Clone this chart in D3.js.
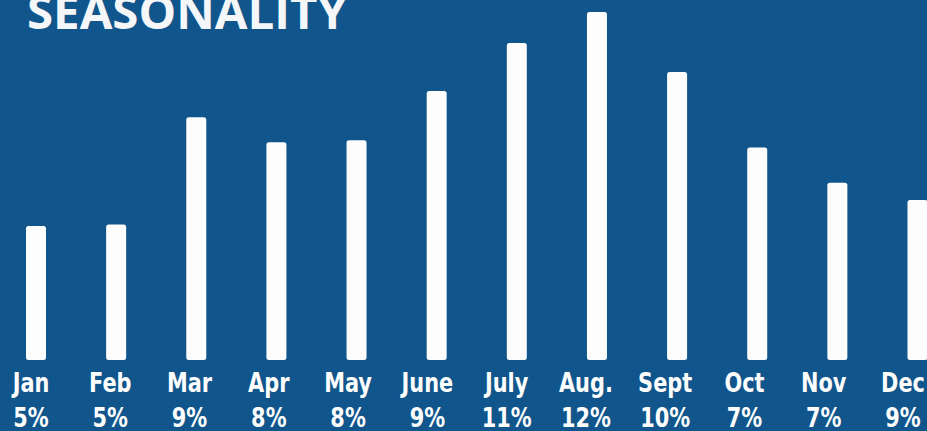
<!DOCTYPE html>
<html>
<head>
<meta charset="utf-8">
<script src="https://cdn.jsdelivr.net/npm/d3@7"></script>
<style>
  html, body { margin: 0; padding: 0; background: #10558b; overflow: hidden; }
  svg { display: block; }
</style>
</head>
<body>
<svg id="chart" width="927" height="431"></svg>
<script>
const title = "SEASONALITY";
const months = ["Jan", "Feb", "Mar", "Apr", "May", "June", "July", "Aug.", "Sept", "Oct", "Nov", "Dec"];
const shareLabels = ["5%", "5%", "9%", "8%", "8%", "9%", "11%", "12%", "10%", "7%", "7%", "9%"];
// bar heights as drawn (index on a 0–12 scale)
const barValues = [4.62, 4.67, 8.37, 7.51, 7.58, 9.28, 10.93, 12.0, 9.93, 7.33, 6.11, 5.52];

const W = 927, H = 431;
const svg = d3.select("#chart");
svg.append("rect").attr("width", W).attr("height", H).attr("fill", "#10558b");

const x = d3.scalePoint().domain(months).range([36, 917.5]);
const xLabel = d3.scalePoint().domain(months).range([31, 903]);
const y = d3.scaleLinear().domain([0, 12]).range([360, 12]);
const barW = 20;

svg.append("g").selectAll("rect")
  .data(months.map((m, i) => ({ m, v: barValues[i] })))
  .join("rect")
  .attr("x", d => x(d.m) - barW / 2)
  .attr("y", d => y(d.v))
  .attr("width", barW)
  .attr("height", d => y(0) - y(d.v))
  .attr("rx", 2.5)
  .attr("fill", "#fdfdfd");

const font = "'Liberation Sans Narrow', 'DejaVu Sans Condensed', 'Arial Narrow', sans-serif";
const squeeze = 0.86;

svg.append("g").selectAll("text")
  .data(months)
  .join("text")
  .attr("transform", d => `translate(${xLabel(d)},392) scale(${squeeze},1)`)
  .attr("text-anchor", "middle")
  .attr("font-family", font)
  .attr("font-weight", "bold")
  .attr("font-size", 27)
  .attr("fill", "#fdfdfd")
  .text(d => d);

svg.append("g").selectAll("text")
  .data(months.map((m, i) => ({ m, t: shareLabels[i] })))
  .join("text")
  .attr("transform", d => `translate(${xLabel(d.m)},426.5) scale(${squeeze},1)`)
  .attr("text-anchor", "middle")
  .attr("font-family", font)
  .attr("font-weight", "bold")
  .attr("font-size", 27)
  .attr("fill", "#fdfdfd")
  .text(d => d.t);

svg.append("text")
  .attr("x", 27)
  .attr("y", 29)
  .attr("font-family", "'Open Sans', 'Noto Sans', sans-serif")
  .attr("font-weight", "bold")
  .attr("font-size", 46)
  .attr("textLength", 320)
  .attr("lengthAdjust", "spacingAndGlyphs")
  .attr("fill", "#f5f6f8")
  .text(title);
</script>
</body>
</html>
